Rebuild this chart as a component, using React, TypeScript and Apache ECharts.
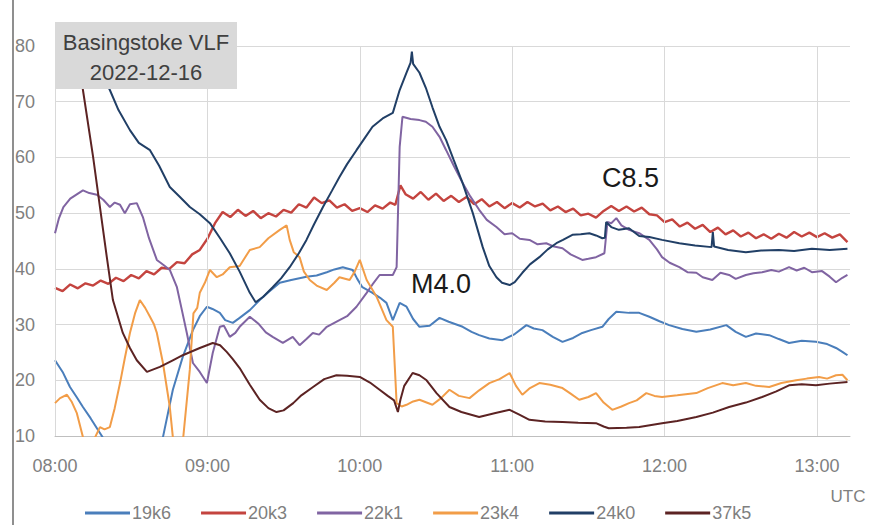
import React, { useEffect, useRef } from 'react';
import * as echarts from 'echarts';

// minutes after 08:00 UTC
const hourTicks = [0, 60, 120, 180, 240, 300];
const seriesNames = ['19k6', '20k3', '22k1', '23k4', '24k0', '37k5'];
const seriesColors = ['#4a7ebb', '#c4443f', '#8064a2', '#f29d48', '#213f66', '#5c2323'];

const s19k6: number[][] = [
  [0, 23.6], [3, 21.5], [5.9, 18.8], [8.5, 17], [11, 15.2], [14, 13.2], [16.5, 11.4], [19, 9.6], [22, 8],
  [30, 6], [38, 6.5], [42.5, 9.8], [46.4, 18.3], [50.3, 24.2], [54.3, 29], [57, 31.5], [59.8, 33.2],
  [62, 32.8], [64.9, 32.1], [67, 30.8], [70, 30.3], [72.7, 31.2], [76.7, 32.6], [80.6, 34.4], [84, 35.8],
  [88.5, 37.5], [93, 38], [99, 38.6], [103, 38.8], [107, 39.4], [110, 39.9], [113.3, 40.3], [117.2, 39.8],
  [119, 38.2], [121, 36.7], [125, 35.7], [128, 34.8], [130.5, 33.9], [133, 30.8], [135.7, 33.9],
  [138.4, 33.2], [141, 31], [143.5, 29.6], [147.5, 29.8], [151.4, 31.2], [155, 30.5], [160.5, 29.6],
  [164, 28.7], [167, 28.1], [171, 27.5], [176.2, 27.2], [181, 28.3], [185.6, 29.9], [188.5, 29.3],
  [191.9, 29], [196, 27.8], [199.8, 26.9], [204, 27.6], [207.6, 28.5], [211, 29], [215.5, 29.6], [218, 31],
  [221, 32.3], [226, 32.1], [230, 32.1], [234, 31.4], [238, 30.6], [241.8, 29.9], [247, 29.2], [252.5, 28.7],
  [258, 29.1], [264.3, 29.9], [268, 28.7], [272, 27.8], [276, 28.4], [281.2, 28.1], [285, 27.4], [289, 26.7],
  [294, 27.1], [299.6, 26.9], [304, 26.5], [307.5, 25.8], [310, 25.1], [312, 24.5],
];

const s20k3: number[][] = [
  [0, 36.6], [3, 36.0], [6, 37.2], [9, 36.5], [12, 37.4], [15, 37.0], [18, 37.9], [21, 37.3], [24, 38.4],
  [27, 37.8], [30, 38.9], [33, 38.3], [36, 39.6], [39, 39.0], [42, 40.2], [45, 40.0], [48, 41.2], [51, 41.0],
  [54, 42.6], [57, 43.4], [60, 45.4], [63, 48.2], [66, 50.2], [69, 49.3], [72, 50.6], [75, 49.5], [78, 50.4],
  [81, 49.1], [84, 50.0], [87, 49.4], [90, 50.6], [93, 50.1], [96, 51.6], [99, 51.0], [102, 52.8], [105, 51.8],
  [108, 52.3], [111, 51.0], [114, 51.6], [117, 50.4], [120, 50.9], [123, 50.2], [126, 51.4], [129, 50.8],
  [132, 51.9], [134, 51.5], [136, 55.0], [138, 53.4], [141, 52.6], [144, 53.8], [147, 52.4], [150, 53.5],
  [153, 52.2], [156, 53.1], [159, 52.0], [162, 52.9], [165, 51.6], [168, 52.5], [171, 51.2], [174, 52.0],
  [177, 50.9], [180, 51.8], [183, 51.0], [186, 52.0], [189, 51.2], [192, 51.7], [195, 50.5], [198, 51.2],
  [201, 50.2], [204, 50.8], [207, 49.6], [210, 49.9], [213, 49.2], [216, 50.4], [219, 51.3], [222, 50.4],
  [225, 51.2], [228, 50.3], [231, 51.0], [234, 49.8], [237, 49.6], [240, 48.4], [243, 48.9], [246, 47.6],
  [249, 48.3], [252, 47.2], [255, 47.9], [258, 46.6], [261, 47.4], [264, 46.2], [267, 46.9], [270, 45.8],
  [273, 46.5], [276, 45.5], [279, 46.2], [282, 45.4], [285, 46.3], [288, 45.6], [291, 46.6], [294, 45.8],
  [297, 46.5], [300, 45.7], [303, 46.4], [306, 45.6], [309, 46.2], [312, 44.8],
];

const s22k1: number[][] = [
  [0, 46.4], [1.5, 49], [3.3, 51.1], [6, 52.6], [11, 54.1], [13.5, 53.6], [16.5, 53.3], [19, 52.4],
  [21.6, 51.1], [23.5, 51.9], [25.6, 51.5], [27.5, 50], [29.5, 51.6], [32.2, 51.8], [34.6, 49.3], [37, 45.5],
  [40.1, 41.6], [43, 40.6], [45.2, 39.8], [48, 36.7], [50, 32.5], [51.9, 28.5], [54.3, 23.1], [57, 21.5],
  [59.8, 19.5], [62.1, 24.9], [64.9, 29.6], [66.5, 29.8], [68.8, 27.8], [71, 28.5], [72.7, 29.6],
  [76.7, 31.4], [80, 30.2], [83, 28.6], [85.7, 27.8], [89.7, 26.7], [93.6, 27.8], [96.3, 26.3], [99, 27.4],
  [101.5, 28.5], [104, 28.2], [107, 29.6], [112, 30.8], [115, 31.5], [118.7, 33.2], [122.7, 35.7],
  [125, 37.2], [127.8, 38.9], [133, 38.9], [134.5, 40.3], [135.7, 61.9], [136.8, 67.3], [140, 66.9],
  [143.5, 66.7], [146, 66.4], [148.6, 65.5], [151.4, 63.7], [154, 61.3], [157, 58.5], [160.5, 55.4],
  [163.5, 53], [167, 50.6], [170, 48.8], [173.8, 47.5], [177, 46.2], [180, 46.4], [183, 45.4], [186.8, 45.2],
  [190, 44.4], [193.4, 44.6], [196.5, 44], [199.8, 43.7], [203, 42.6], [207.6, 41.6], [210, 41.8],
  [213, 42.1], [216.3, 42.8], [217.5, 48.4], [219, 48.2], [221, 49.1], [223, 47.8], [226, 47], [230, 46.4],
  [234, 45.2], [237, 43.5], [239, 42.1], [242, 41.1], [245.8, 40.3], [249, 39.4], [252.5, 39.3], [255, 38.5],
  [258.8, 38], [262, 39.3], [265.4, 38.9], [268, 38.2], [272, 38.9], [275, 39.2], [278.4, 39.4], [282, 39.8],
  [285, 39.5], [289, 40.3], [292, 39.7], [295, 40.2], [298, 39.4], [302, 39.6], [305, 38.6], [307.5, 37.6],
  [310, 38.4], [312, 38.9],
];

const s23k4: number[][] = [
  [0, 15.9], [2, 16.8], [4.7, 17.4], [6.5, 16.2], [8.6, 14.1], [11, 9.8], [13, 8], [15.5, 9.5],
  [17.7, 11.6], [19.5, 11.2], [21.6, 11.6], [23.5, 15], [25.6, 19.5], [27.5, 24], [29.5, 28.5], [31.5, 32],
  [33.4, 34.4], [35.5, 33], [37.4, 31.4], [39, 30], [40.1, 28.5], [42.5, 23.1], [45.2, 15.2], [46.4, 9.8],
  [48, 8], [50.5, 9.8], [53.1, 22], [54.5, 32], [56, 33], [57, 35.7], [59, 37.5], [61, 39.8], [63.7, 38.5],
  [66, 39], [68.8, 40.3], [72.7, 40.5], [76.7, 43.4], [80.6, 43.9], [84, 45.5], [88.5, 47], [91.2, 47.8],
  [92.4, 45.2], [94, 43], [96.3, 42.1], [98, 39.5], [100.3, 38], [103, 37], [107, 36.2], [110, 37.5],
  [112, 38.5], [116, 38], [118, 39.5], [120, 41.6], [122.7, 38], [126.6, 35], [130.5, 30.8], [133, 29.6],
  [134.5, 15.9], [136.5, 15.3], [138.4, 15.6], [141, 16.2], [143.5, 16.5], [148.6, 15.6], [152, 16.8],
  [155.3, 18.3], [159, 17.2], [163.2, 16.8], [167, 18.2], [171, 19.5], [175, 20.2], [179, 21.3], [181.5, 19],
  [184, 17.4], [187, 18.6], [190.7, 19.5], [195, 19.2], [199.8, 18.6], [203, 17.6], [206.4, 16.5], [210, 17],
  [213, 17.7], [216, 16], [219.4, 14.7], [223, 15.3], [226, 15.9], [229, 16.4], [232.8, 17.7], [236, 17.2],
  [239, 17], [245, 17.3], [252.5, 17.7], [257, 18.6], [262.7, 19.5], [267, 19.1], [272, 19.5], [276, 19],
  [281.2, 18.8], [286, 19.5], [291.8, 20], [296, 20.3], [300.8, 20.6], [304, 20.3], [307.5, 20.9], [310, 21],
  [312, 20],
];

const s24k0: number[][] = [
  [0, 90], [10, 82], [16, 77], [21.6, 72.1], [25, 68.5], [29.5, 64.9], [33, 62.6], [37.4, 61.3], [41, 58.5],
  [45.2, 54.7], [49, 53], [53.1, 51.1], [57, 49.8], [61, 48.2], [65, 45.5], [68.8, 42.8], [72.7, 39.5],
  [76.7, 35.7], [79, 34], [82, 35], [85.7, 36.7], [89, 38.3], [92.4, 40.3], [96, 42.8], [99, 45.2], [102, 48],
  [105.5, 51.1], [109, 54], [112, 56.5], [115, 58.8], [118.7, 61.3], [122, 63.5], [125, 65.5], [129, 67],
  [133, 68], [135.7, 72.1], [138.4, 75.2], [140, 77], [140.5, 79], [141, 76.8], [143.5, 75.2], [146, 72.5],
  [148.6, 69], [151.4, 65.5], [154, 63.1], [157, 59.5], [160.5, 55.4], [164.5, 50], [168.4, 43.9],
  [171, 40.5], [173.8, 38.5], [176, 37.5], [179, 37.1], [181, 37.6], [184, 39.3], [187, 40.8], [190.7, 42.1],
  [194, 43.5], [197.4, 44.6], [200, 45.2], [203.7, 46.1], [207, 46.2], [210.4, 46.4], [213, 46], [215.5, 45.5],
  [216.5, 45.6], [217, 48.4], [219, 47.5], [222, 47], [226, 47.3], [230, 45.9], [234, 45.7], [239, 45.2],
  [245.8, 44.6], [252, 44.2], [258.5, 43.9], [259, 46.6], [259.5, 44], [265, 43.4], [272, 43], [278, 43.3],
  [285, 43.4], [291, 43.2], [298, 43.6], [305, 43.4], [312, 43.6],
];

const s37k5: number[][] = [
  [0, 100], [8, 81], [11, 72.1], [15, 60.1], [17.7, 51.1], [20.4, 42.1], [22.8, 34.4], [26.7, 28.5],
  [29.5, 25.8], [32.2, 23.6], [36.2, 21.5], [41.3, 22.4], [46, 23.5], [50.3, 24.5], [57, 25.8], [62.1, 26.7],
  [65, 26.3], [67.6, 25.1], [70, 23.8], [72.7, 22.2], [76.7, 19.2], [80.6, 16.5], [84, 15], [87.2, 14.3],
  [90, 14.6], [93.8, 15.9], [97, 17.3], [101.6, 18.8], [106, 20.2], [110.8, 20.9], [115, 20.8], [120, 20.6],
  [124, 19.6], [127.8, 18.3], [131, 17.2], [133.5, 16.4], [135, 14.3], [136, 16.5], [137.5, 19], [140.8, 21.3],
  [143.5, 20.9], [146.3, 20], [150.2, 17.7], [155.3, 15.2], [160, 14.3], [167, 13.4], [173, 14.1], [179, 14.7],
  [183, 13.8], [186.8, 12.9], [193, 12.6], [199.8, 12.5], [206, 12.4], [213, 12.3], [216, 11.7], [218, 11.4],
  [225, 11.5], [230, 11.6], [239, 12.3], [245, 12.7], [252.5, 13.4], [259, 14.2], [265.4, 15.2], [272, 16],
  [278.4, 17], [284, 18], [289, 19.1], [294, 19.3], [299.6, 19.1], [305, 19.4], [312, 19.7],
];

const seriesData = [s19k6, s20k3, s22k1, s23k4, s24k0, s37k5];
const seriesWidths = [2, 2.4, 2, 2, 2, 2];

const FONT = '"Liberation Sans", Arial, sans-serif';

const pad = (n: number) => (n < 10 ? '0' + n : '' + n);

export default function App() {
  const ref = useRef<HTMLDivElement>(null);
  useEffect(() => {
    if (!ref.current) return;
    const chart = echarts.init(ref.current, undefined, { renderer: 'svg' });
    const lineSeries: any[] = seriesNames.map((name, i) => ({
      name,
      type: 'line',
      data: seriesData[i],
      showSymbol: false,
      symbol: 'none',
      smooth: false,
      clip: true,
      z: 3 + i,
      lineStyle: { color: seriesColors[i], width: seriesWidths[i] },
      itemStyle: { color: seriesColors[i] },
      emphasis: { disabled: true },
      silent: true,
    }));
    const gridSeries = {
      name: 'grid',
      type: 'line',
      data: [],
      z: 1,
      silent: true,
      markLine: {
        silent: true,
        symbol: ['none', 'none'],
        label: { show: false },
        lineStyle: { color: '#d9d9d9', width: 1, type: 'solid' },
        data: hourTicks.map((t) => ({ xAxis: t })),
      },
    };
    chart.setOption({
      animation: false,
      grid: { left: 55, right: 24, top: 46, bottom: 89, containLabel: false },
      xAxis: {
        type: 'value',
        min: 0,
        max: 313,
        interval: 60,
        axisLine: { show: true, lineStyle: { color: '#bfbfbf', width: 1 } },
        axisTick: { show: false },
        splitLine: { show: false },
        axisLabel: {
          margin: 21,
          color: '#808080',
          fontSize: 18,
          fontFamily: FONT,
          showMaxLabel: false,
          formatter: (v: number) => (v % 60 === 0 ? `${pad(8 + v / 60)}:00` : ''),
        },
      },
      yAxis: {
        type: 'value',
        min: 10,
        max: 80,
        interval: 10,
        axisLine: { show: false },
        axisTick: { show: false },
        splitLine: { show: true, lineStyle: { color: '#d9d9d9', width: 1 } },
        axisLabel: { margin: 20, color: '#808080', fontSize: 18, fontFamily: FONT, align: 'right' },
      },
      legend: {
        data: seriesNames,
        left: 80,
        top: 499,
        icon: 'rect',
        itemWidth: 45,
        itemHeight: 3,
        itemGap: 30,
        textStyle: { color: '#7f7f7f', fontSize: 18, fontFamily: FONT, padding: [0, 0, 0, -3] },
        selectedMode: false,
      },
      graphic: [
        { type: 'line', shape: { x1: 13, y1: 0, x2: 13, y2: 525 }, style: { stroke: '#6a6a6a', lineWidth: 1.5 }, z: 100 },
        { type: 'rect', shape: { x: 55, y: 22, width: 182, height: 67 }, style: { fill: '#d9d9d9' }, z: 100 },
        {
          type: 'text', x: 146, y: 42, z: 101,
          style: { text: 'Basingstoke VLF', fontSize: 22, fontFamily: FONT, fill: '#404040', textAlign: 'center', textVerticalAlign: 'middle' },
        },
        {
          type: 'text', x: 146, y: 72, z: 101,
          style: { text: '2022-12-16', fontSize: 22, fontFamily: FONT, fill: '#404040', textAlign: 'center', textVerticalAlign: 'middle' },
        },
        {
          type: 'text', x: 411, y: 284, z: 101,
          style: { text: 'M4.0', fontSize: 27, fontFamily: FONT, fill: '#1a1a1a', textAlign: 'left', textVerticalAlign: 'middle' },
        },
        {
          type: 'text', x: 602, y: 178, z: 101,
          style: { text: 'C8.5', fontSize: 27, fontFamily: FONT, fill: '#1a1a1a', textAlign: 'left', textVerticalAlign: 'middle' },
        },
        {
          type: 'text', x: 848, y: 496, z: 101,
          style: { text: 'UTC', fontSize: 17, fontFamily: FONT, fill: '#7f7f7f', textAlign: 'center', textVerticalAlign: 'middle' },
        },
      ],
      series: [gridSeries, ...lineSeries],
    });
    return () => chart.dispose();
  }, []);
  return <div ref={ref} style={{ position: 'absolute', left: 0, top: 0, width: 874, height: 525, background: '#fff' }} />;
}
